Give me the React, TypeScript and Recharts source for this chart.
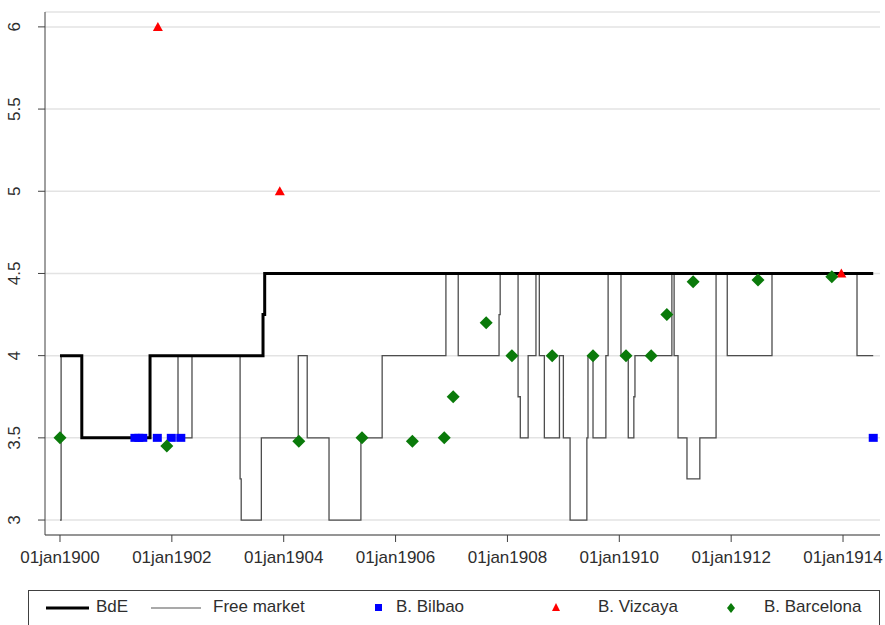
import React from "react";
import {
  ComposedChart,
  Line,
  Scatter,
  XAxis,
  YAxis,
  CartesianGrid,
  Legend,
} from "recharts";

// Banco de España discount rate, [decimal year, rate] at each change
const BDE: [number, number][] = [
  [1900.0, 4],
  [1900.39, 3.5],
  [1901.61, 4],
  [1903.63, 4.25],
  [1903.66, 4.5],
  [1914.54, 4.5],
];

// Free market rate, [decimal year, rate] at each change
const FREE_MARKET: [number, number][] = [
  [1900.0, 3],
  [1900.02, 4],
  [1900.39, 3.5],
  [1901.61, 4],
  [1902.11, 3.5],
  [1902.36, 4],
  [1903.22, 3.25],
  [1903.24, 3],
  [1903.6, 3.5],
  [1904.26, 4],
  [1904.42, 3.5],
  [1904.81, 3],
  [1905.38, 3.5],
  [1905.76, 4],
  [1906.9, 4.5],
  [1907.12, 4],
  [1907.85, 4.25],
  [1907.87, 4.5],
  [1908.19, 3.75],
  [1908.23, 3.5],
  [1908.37, 4],
  [1908.51, 4.5],
  [1908.57, 4],
  [1908.66, 3.5],
  [1908.93, 4],
  [1909.0, 3.5],
  [1909.12, 3],
  [1909.42, 3.5],
  [1909.44, 4],
  [1909.53, 3.5],
  [1909.76, 4],
  [1909.8, 4.5],
  [1910.03, 4],
  [1910.16, 3.5],
  [1910.26, 3.75],
  [1910.28, 4],
  [1910.94, 4.5],
  [1910.98, 4],
  [1911.05, 3.5],
  [1911.21, 3.25],
  [1911.44, 3.5],
  [1911.73, 4.5],
  [1911.93, 4],
  [1912.73, 4.5],
  [1914.25, 4],
  [1914.54, 4],
];

const BILBAO: [number, number][] = [
  [1901.34, 3.5],
  [1901.41, 3.5],
  [1901.48, 3.5],
  [1901.74, 3.5],
  [1901.99, 3.5],
  [1902.16, 3.5],
  [1914.54, 3.5],
];

const VIZCAYA: [number, number][] = [
  [1901.75, 6],
  [1903.93, 5],
  [1913.97, 4.5],
];

const BARCELONA: [number, number][] = [
  [1900.0, 3.5],
  [1901.91, 3.45],
  [1904.27, 3.48],
  [1905.4, 3.5],
  [1906.3, 3.48],
  [1906.87, 3.5],
  [1907.03, 3.75],
  [1907.62, 4.2],
  [1908.08, 4],
  [1908.8, 4],
  [1909.53, 4],
  [1910.12, 4],
  [1910.57, 4],
  [1910.85, 4.25],
  [1911.32, 4.45],
  [1912.48, 4.46],
  [1913.8, 4.48],
];

const X_TICKS = [1900, 1902, 1904, 1906, 1908, 1910, 1912, 1914];
const Y_TICKS = [3, 3.5, 4, 4.5, 5, 5.5, 6];

const toPoints = (rows: [number, number][]) => rows.map(([x, y]) => ({ x, y }));

const FONT = "'Liberation Sans', Arial, sans-serif";
const TEXT = "#2e2e2e";
const AXIS = "#404040";

const Square = (p: any) => (
  <rect x={p.cx - 4.5} y={p.cy - 4} width={9} height={8} fill="#0000ff" />
);

const Triangle = (p: any) => (
  <polygon
    points={`${p.cx},${p.cy - 5} ${p.cx - 5},${p.cy + 4} ${p.cx + 5},${p.cy + 4}`}
    fill="#ff0000"
  />
);

const Diamond = (p: any) => (
  <polygon
    points={`${p.cx},${p.cy - 6.5} ${p.cx + 6.5},${p.cy} ${p.cx},${p.cy + 6.5} ${p.cx - 6.5},${p.cy}`}
    fill="#0a7a0a"
  />
);

const YTick = (p: any) => {
  const { y, payload } = p;
  return (
    <text
      x={15}
      y={y}
      transform={`rotate(-90, 15, ${y})`}
      textAnchor="middle"
      dominantBaseline="central"
      fill={TEXT}
      fontSize={17}
      fontFamily={FONT}
    >
      {payload.value}
    </text>
  );
};

const LegendBox = () => {
  const label = (left: number, text: string) => (
    <span style={{ position: "absolute", left, top: 6, fontSize: 17, color: TEXT }}>
      {text}
    </span>
  );
  return (
    <div
      style={{
        position: "relative",
        width: 852,
        height: 40,
        border: `1px solid ${AXIS}`,
        boxSizing: "border-box",
        fontFamily: FONT,
        background: "#fff",
      }}
    >
      <svg width={850} height={38} style={{ position: "absolute", left: 0, top: 0 }}>
        <line x1={17} x2={60} y1={17} y2={17} stroke="#000" strokeWidth={3} />
        <line x1={122} x2={172} y1={17} y2={17} stroke="#555" strokeWidth={1.2} />
        <rect x={346} y={13} width={7} height={7} fill="#0000ff" />
        <polygon points="527,12 523,20 531,20" fill="#ff0000" />
        <polygon points="702,12 706,17 702,22 698,17" fill="#0a7a0a" />
      </svg>
      {label(67, "BdE")}
      {label(184, "Free market")}
      {label(367, "B. Bilbao")}
      {label(569, "B. Vizcaya")}
      {label(735, "B. Barcelona")}
    </div>
  );
};

export default function App() {
  return (
    <div style={{ position: "absolute", left: 0, top: 0, background: "#fff" }}>
      <ComposedChart
        width={885}
        height={625}
        margin={{ top: 12, right: 5, bottom: 20, left: 0 }}
      >
        <CartesianGrid vertical={false} stroke="#e3e3e3" strokeWidth={1.5} />
        <XAxis
          type="number"
          dataKey="x"
          domain={[1899.732, 1914.661]}
          ticks={X_TICKS}
          tickFormatter={(v: number) => `01jan${v}`}
          allowDataOverflow
          height={30}
          tickSize={7}
          tickMargin={9}
          stroke={AXIS}
          tick={{ fill: TEXT, fontSize: 17, fontFamily: FONT }}
        />
        <YAxis
          type="number"
          dataKey="y"
          domain={[2.909, 6.0905]}
          ticks={Y_TICKS}
          allowDataOverflow
          width={45}
          tickSize={7}
          stroke={AXIS}
          tick={<YTick />}
        />
        <Legend
          verticalAlign="bottom"
          wrapperStyle={{ left: 28, top: 590, bottom: "auto", width: 852 }}
          content={() => <LegendBox />}
        />
        <Line
          data={toPoints(FREE_MARKET)}
          dataKey="y"
          type="stepAfter"
          stroke="#4d4d4d"
          strokeWidth={1.3}
          dot={false}
          activeDot={false}
          isAnimationActive={false}
        />
        <Line
          data={toPoints(BDE)}
          dataKey="y"
          type="stepAfter"
          stroke="#000"
          strokeWidth={3}
          dot={false}
          activeDot={false}
          isAnimationActive={false}
        />
        <Scatter data={toPoints(BILBAO)} dataKey="y" shape={Square} isAnimationActive={false} />
        <Scatter data={toPoints(VIZCAYA)} dataKey="y" shape={Triangle} isAnimationActive={false} />
        <Scatter data={toPoints(BARCELONA)} dataKey="y" shape={Diamond} isAnimationActive={false} />
      </ComposedChart>
    </div>
  );
}
